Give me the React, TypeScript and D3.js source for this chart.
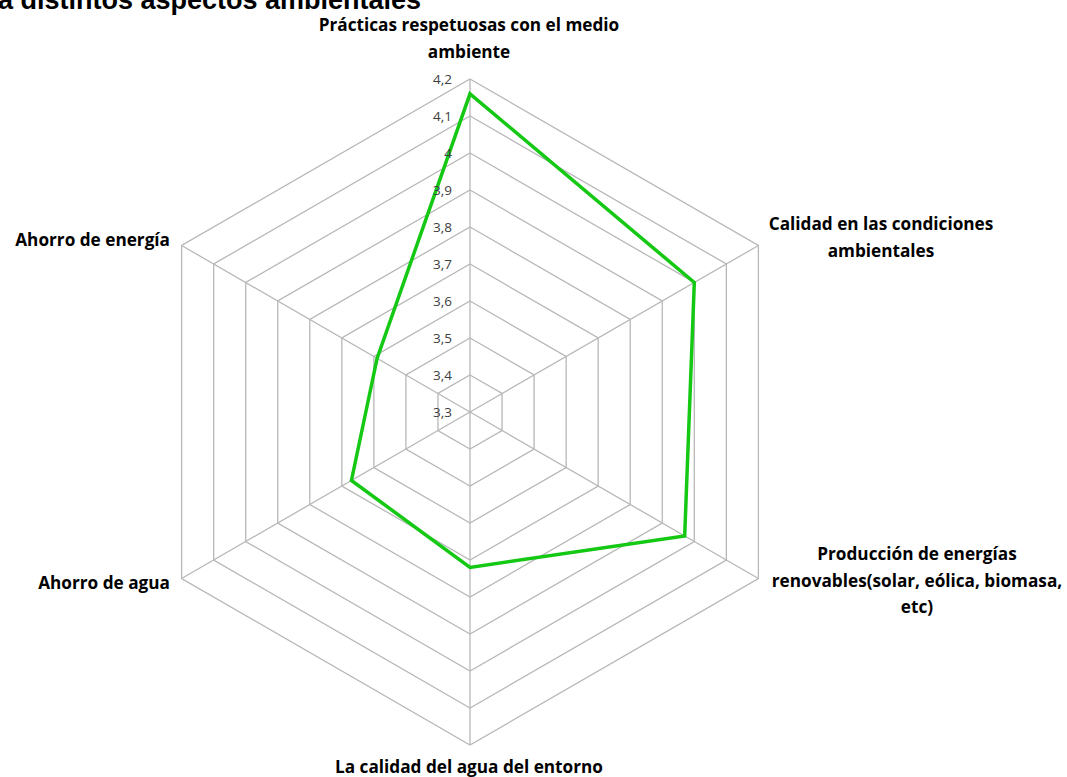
import React from "react";
import * as d3 from "d3";

const categories: string[][] = [
  ["Prácticas respetuosas con el medio", "ambiente"],
  ["Calidad en las condiciones", "ambientales"],
  ["Producción de energías", "renovables(solar, eólica, biomasa,", "etc)"],
  ["La calidad del agua del entorno"],
  ["Ahorro de agua"],
  ["Ahorro de energía"],
];
const values: number[] = [4.16, 4.0, 3.97, 3.72, 3.67, 3.59];
const ticks: number[] = [3.3, 3.4, 3.5, 3.6, 3.7, 3.8, 3.9, 4.0, 4.1, 4.2];
const tickLabels: string[] = ["3,3", "3,4", "3,5", "3,6", "3,7", "3,8", "3,9", "4", "4,1", "4,2"];
const title = "a distintos aspectos ambientales";

const W = 1067, H = 777;
const cx = 470, cy = 412, R = 333;

const labelPos = [
  { x: 469, y: 31, anchor: "middle" },
  { x: 881, y: 230, anchor: "middle" },
  { x: 917, y: 560, anchor: "middle" },
  { x: 469, y: 773, anchor: "middle" },
  { x: 170, y: 589, anchor: "end" },
  { x: 170, y: 246, anchor: "end" },
];

export default function App() {
  const r = d3.scaleLinear().domain([3.3, 4.2]).range([0, R]);
  const n = categories.length;
  const ang = (i: number) => (i * 2 * Math.PI) / n;
  const pt = (i: number, v: number): [number, number] => [
    cx + r(v) * Math.sin(ang(i)),
    cy - r(v) * Math.cos(ang(i)),
  ];
  const closed = d3.line().curve(d3.curveLinearClosed);
  const idx = d3.range(n);
  return (
    <svg width={W} height={H} style={{ position: "absolute", left: 0, top: 0, background: "#fff" }}>
      <text x={-2} y={9} fontFamily="Liberation Sans, Arial" fontWeight="bold" fontSize={27} fill="#000">
        {title}
      </text>
      <g stroke="#b8b8b8" strokeWidth={1.3} fill="none">
        {ticks.slice(1).map((t) => (
          <path key={t} d={closed(idx.map((i) => pt(i, t))) || ""} />
        ))}
        {idx.map((i) => {
          const [x, y] = pt(i, 4.2);
          return <line key={i} x1={cx} y1={cy} x2={x} y2={y} />;
        })}
      </g>
      <path
        d={closed(values.map((v, i) => pt(i, v))) || ""}
        fill="none"
        stroke="#14c814"
        strokeWidth={3.5}
        strokeLinejoin="miter"
      />
      <g fontFamily="Open Sans, Noto Sans" fontSize={13.5} fill="#404040" textAnchor="end">
        {ticks.map((t, k) => (
          <text key={t} x={452} y={cy - r(t) + 4.5}>
            {tickLabels[k]}
          </text>
        ))}
      </g>
      <g fontFamily="Open Sans, Noto Sans" fontWeight="bold" fontSize={17.2} fill="#000">
        {categories.map((lines, i) => (
          <text key={i} x={labelPos[i].x} y={labelPos[i].y} textAnchor={labelPos[i].anchor}>
            {lines.map((l, j) => (
              <tspan key={j} x={labelPos[i].x} dy={j === 0 ? 0 : 26.5}>
                {l}
              </tspan>
            ))}
          </text>
        ))}
      </g>
    </svg>
  );
}
